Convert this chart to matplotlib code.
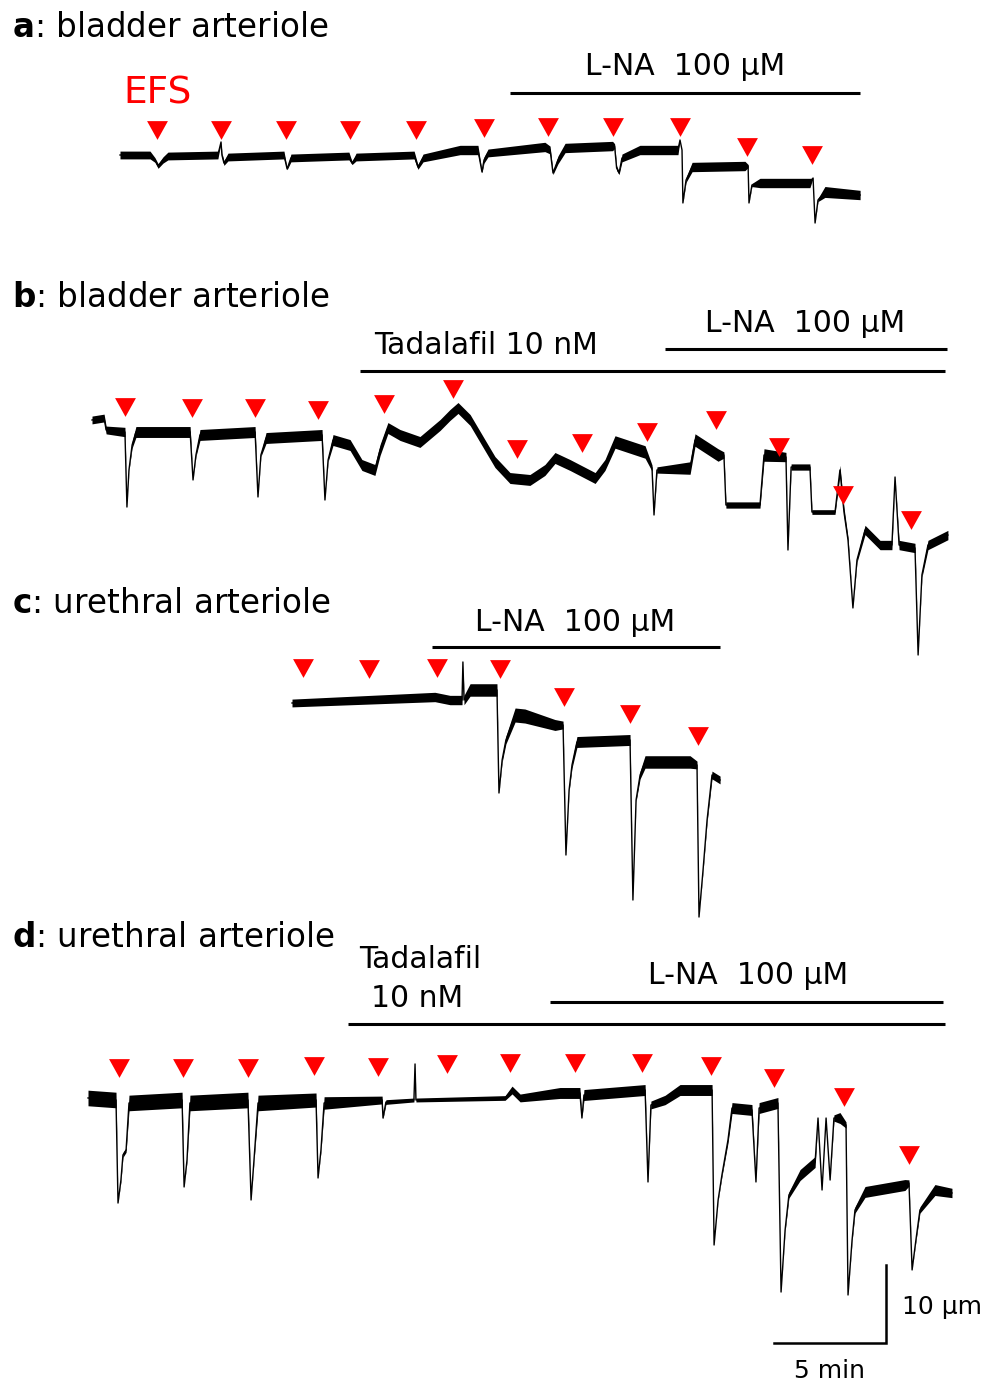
import numpy as np
import matplotlib
matplotlib.use("Agg")
import matplotlib.pyplot as plt

# ---------------- data (time in min, diameter change in µm, noise half-width in µm) ----------------
a_trace = [(0, 0, .5), (1.34, 0, .5), (1.56, -0.64, .3), (1.70, -1.41, .3), (1.92, -0.64, .4), (2.14, -0.13, .5),
           (4.37, 0, .5), (4.51, 1.67, 0), (4.55, 0, .3), (4.64, -1.03, .3), (4.82, -0.26, .5), (7.32, 0, .5),
           (7.46, -1.79, .1), (7.63, -0.38, .5), (10.22, -0.13, .5), (10.36, -1.03, .2), (10.54, -0.26, .5),
           (13.13, 0, .5), (13.30, -1.54, .3), (13.53, -0.38, .5), (15.18, 0.64, .6), (15.98, 0.64, .6),
           (16.16, -2.18, .1), (16.25, -0.64, .4), (16.43, 0.26, .5), (18.97, 1.03, .6), (19.20, 0.64, .5),
           (19.33, -2.31, .2), (19.55, -0.64, .5), (19.87, 0.90, .6), (21.99, 1.15, .6), (22.08, 1.15, .3),
           (22.17, -1.67, .3), (22.28, -2.31, .2), (22.41, -0.38, .5), (23.21, 0.64, .6), (24.91, 0.64, .6),
           (25.0, 1.92, 0), (25.09, 0.64, 0), (25.13, -6.15, 0), (25.27, -3.21, .3), (25.54, -1.54, .6),
           (27.90, -1.41, .6), (28.04, -1.41, .2), (28.08, -6.15, 0), (28.21, -3.85, .2), (28.57, -3.59, .6),
           (30.80, -3.59, .6), (30.94, -2.95, 0), (31.03, -8.72, 0), (31.16, -5.77, .2), (31.47, -4.74, .7),
           (33.04, -5.13, .6)]
a_efs_t = [1.65, 4.51, 7.41, 10.27, 13.21, 16.25, 19.11, 22.01, 25.0, 27.99, 30.89]
a_efs_h = [3.21, 3.21, 3.21, 3.21, 3.21, 3.46, 3.59, 3.59, 3.59, 1.03, 0.0]
a_lna = (17.41, 33.04)

b_trace = [(0, 1.54, .5), (0.54, 1.79, .5), (0.63, 0.26, .5), (1.47, 0, .6), (1.56, -9.62, 0), (1.65, -4.87, .1),
           (1.79, -1.67, .4), (1.96, 0, .7), (4.38, 0, .7), (4.51, -6.15, 0), (4.64, -2.95, .2), (4.82, -0.38, .7),
           (7.28, 0, .7), (7.41, -8.33, 0), (7.54, -2.95, .2), (7.77, -0.77, .7), (10.27, -0.38, .7),
           (10.40, -8.72, 0), (10.54, -3.59, .2), (10.76, -1.03, .7), (11.52, -1.67, .7), (12.05, -4.23, .7),
           (12.63, -4.87, .7), (12.86, -2.31, .7), (13.21, 0.51, .7), (13.75, -0.38, .7), (14.64, -1.28, .7),
           (15.54, 0.90, .7), (15.98, 2.18, .7), (16.34, 3.08, .7), (16.88, 1.54, .7), (17.54, -1.67, .7),
           (17.99, -3.85, .7), (18.66, -5.90, .7), (19.55, -6.15, .7), (20.22, -4.87, .7), (20.67, -3.33, .7),
           (21.34, -4.23, .7), (22.46, -5.90, .7), (22.90, -4.23, .7), (23.35, -1.28, .8), (24.69, -2.56, .8),
           (25.0, -4.62, .4), (25.09, -10.64, 0), (25.22, -4.87, .4), (26.70, -4.62, .8), (26.92, -1.03, .8),
           (27.95, -2.95, .8), (28.21, -2.95, .4), (28.30, -9.36, .4), (29.82, -9.36, .4), (30.0, -2.95, .8),
           (30.98, -3.21, .6), (31.07, -15.13, 0), (31.21, -4.49, .4), (32.05, -4.49, .4), (32.14, -10.26, .3),
           (33.17, -10.26, .3), (33.39, -4.87, .6), (33.57, -10.26, .6), (33.75, -13.85, .4), (33.97, -22.56, 0),
           (34.15, -16.41, .3), (34.51, -12.56, .6), (35.18, -14.49, .6), (35.71, -14.49, .6), (35.85, -5.77, 0),
           (36.03, -14.49, .6), (36.74, -14.87, .6), (36.88, -28.59, 0), (37.05, -18.33, .3), (37.32, -14.49, .6),
           (38.21, -13.21, .6)]
b_efs_t = [1.47, 4.46, 7.28, 10.09, 13.04, 16.12, 18.97, 21.88, 24.78, 27.86, 30.67, 33.53, 36.56]
b_efs_h = [3.21, 3.08, 3.08, 2.82, 3.59, 5.51, -2.18, -1.41, 0, 1.54, -1.92, -8.08, -11.28]
b_tad = (11.96, 38.08)
b_lna = (25.58, 38.17)

c_trace = [(0, 0, .5), (6.38, 0.77, .6), (7.05, 0.38, .6), (7.59, 0.38, .6), (7.63, 5.26, 0), (7.68, 0.38, .6),
           (7.95, 1.67, .8), (9.15, 1.67, .8), (9.24, -11.54, 0), (9.38, -7.31, .3), (9.55, -4.74, .5),
           (9.96, -1.54, .9), (10.40, -1.67, .9), (11.74, -2.82, .7), (12.10, -2.82, .5), (12.23, -19.49, 0),
           (12.37, -11.15, .2), (12.50, -7.95, .4), (12.72, -5.0, .7), (15.09, -4.74, .7), (15.22, -25.26, 0),
           (15.36, -12.44, .2), (15.54, -9.23, .5), (15.76, -7.56, .8), (17.77, -7.56, .8), (18.08, -7.95, .5),
           (18.17, -27.44, 0), (18.35, -21.41, .2), (18.53, -15.0, .3), (18.75, -9.23, .5), (19.11, -9.87, .5)]
c_efs_t = [0.49, 3.44, 6.47, 9.29, 12.14, 15.09, 18.13]
c_efs_h = [4.49, 4.36, 4.49, 4.36, 0.77, -1.41, -4.23]
c_lna = (6.25, 19.11)

d_trace = [(0, 0.26, 1.0), (1.25, 0, 1.0), (1.34, -13.21, 0), (1.47, -10.26, .2), (1.56, -7.05, .3),
           (1.70, -6.41, .3), (1.83, -0.38, 1.0), (4.20, 0, 1.0), (4.29, -11.15, 0), (4.42, -7.69, .2),
           (4.55, -0.38, 1.0), (7.14, 0, 1.0), (7.28, -12.82, 0), (7.41, -7.69, .2), (7.59, -0.38, 1.0),
           (10.18, 0, .9), (10.27, -10.0, 0), (10.40, -6.41, .2), (10.54, -0.38, .8), (13.13, 0, .5),
           (13.17, -2.31, .1), (13.30, -0.26, .3), (14.55, 0, .25), (14.60, 4.62, 0), (14.64, 0, .25),
           (18.62, 0.26, .3), (18.93, 1.28, .5), (19.29, 0.26, .5), (21.07, 0.90, .7), (21.96, 0.90, .7),
           (22.05, -2.31, 0), (22.14, 0.64, .7), (24.87, 1.28, .7), (25.0, -10.51, 0), (25.13, -0.64, .5),
           (25.76, 0, .6), (26.43, 1.28, .7), (27.86, 1.28, .7), (27.95, -18.59, 0), (28.13, -12.82, .1),
           (28.30, -9.62, .2), (28.57, -5.13, .4), (28.75, -1.03, .7), (29.64, -1.28, .7), (29.82, -10.51, 0),
           (29.96, -1.03, .7), (30.80, -0.38, .7), (30.94, -24.62, 0), (31.12, -16.67, .2), (31.29, -12.18, .4),
           (31.79, -9.62, .7), (32.46, -7.95, .7), (32.59, -2.31, 0), (32.77, -11.54, 0), (32.95, -2.31, 0),
           (33.13, -10.26, 0), (33.30, -2.31, .4), (33.57, -2.31, .7), (33.84, -3.21, .4), (33.93, -25.0, 0),
           (34.11, -17.95, .2), (34.24, -14.10, .4), (34.69, -11.79, .7), (36.47, -10.90, .7), (36.65, -10.64, .4),
           (36.79, -21.79, 0), (36.96, -17.95, .2), (37.14, -14.10, .4), (37.81, -11.54, .7), (38.57, -11.92, .6)]
d_efs_t = [1.38, 4.24, 7.14, 10.09, 12.95, 16.03, 18.84, 21.74, 24.73, 27.81, 30.63, 33.75, 36.65]
d_efs_h = [4.10, 4.10, 4.10, 4.36, 4.23, 4.62, 4.74, 4.74, 4.74, 4.36, 2.82, 0.38, -7.05]
d_tad = (11.61, 38.26)
d_lna = (20.63, 38.17)

scale_min = 5
scale_um = 10

# ---------------- layout ----------------
W, H = 994, 1384
PX_MIN = 22.4     # pixels per minute
PX_UM = 7.8       # pixels per µm

plt.rcParams['font.family'] = ['DejaVu Sans']
fig = plt.figure(figsize=(W / 100, H / 100), dpi=100)
fig.patch.set_facecolor('white')

lay = fig.add_axes([0, 0, 1, 1])
lay.set_xlim(0, W)
lay.set_ylim(H, 0)
lay.axis('off')


def panel_axes(x0, y0):
    ax = fig.add_axes([0, 0, 1, 1])
    ax.set_xlim(-x0 / PX_MIN, (W - x0) / PX_MIN)
    ax.set_ylim(-(H - y0) / PX_UM, y0 / PX_UM)
    ax.axis('off')
    ax.patch.set_alpha(0)
    return ax


TRI = [(-1, 0.9), (1, 0.9), (0, -0.9), (-1, 0.9)]


def draw_trace(ax, trace, efs_t, efs_h):
    t, d, w = np.array(trace, dtype=float).T
    ax.fill_between(t, d - w, d + w, color='black', lw=0)
    ax.plot(t, d, color='black', lw=1.0)
    ax.plot(efs_t, efs_h, ls='none', marker=TRI, ms=15, color='#ff0000', mew=0)


def bar(ax, span, y):
    ax.plot(list(span), [y, y], color='black', lw=2.2, solid_capstyle='butt')


axa = panel_axes(120, 155)
draw_trace(axa, a_trace, a_efs_t, a_efs_h)
bar(axa, a_lna, 7.95)

axb = panel_axes(92, 432)
draw_trace(axb, b_trace, b_efs_t, b_efs_h)
bar(axb, b_tad, 7.82)
bar(axb, b_lna, 10.64)

axc = panel_axes(292, 703)
draw_trace(axc, c_trace, c_efs_t, c_efs_h)
bar(axc, c_lna, 7.18)

axd = panel_axes(88, 1100)
draw_trace(axd, d_trace, d_efs_t, d_efs_h)
bar(axd, d_tad, 9.74)
bar(axd, d_lna, 12.56)

# scale bar
sx, sy = 35.63, -31.15
axd.plot([sx - scale_min, sx, sx], [sy, sy, sy + scale_um], color='black', lw=1.8,
         solid_joinstyle='miter')

# ---------------- text ----------------
TS = 23.5
lay.text(12, 37, r"$\mathbf{a}$: bladder arteriole", fontsize=TS, va='baseline')
lay.text(12, 307, r"$\mathbf{b}$: bladder arteriole", fontsize=TS, va='baseline')
lay.text(12, 613, r"$\mathbf{c}$: urethral arteriole", fontsize=TS, va='baseline')
lay.text(12, 947, r"$\mathbf{d}$: urethral arteriole", fontsize=TS, va='baseline')

lay.text(158, 103, "EFS", color='#ff0000', fontsize=27, ha='center', va='baseline')

LS = 21.5
lay.text(685, 75, "L-NA  100 µM", fontsize=LS, ha='center', va='baseline')
lay.text(486, 354, "Tadalafil 10 nM", fontsize=LS, ha='center', va='baseline')
lay.text(805, 332, "L-NA  100 µM", fontsize=LS, ha='center', va='baseline')
lay.text(575, 631, "L-NA  100 µM", fontsize=LS, ha='center', va='baseline')
lay.text(420, 968, "Tadalafil", fontsize=LS, ha='center', va='baseline')
lay.text(417, 1007, "10 nM", fontsize=LS, ha='center', va='baseline')
lay.text(748, 984, "L-NA  100 µM", fontsize=LS, ha='center', va='baseline')

lay.text(902, 1314, "10 µm", fontsize=18, ha='left', va='baseline')
lay.text(830, 1378, "5 min", fontsize=18, ha='center', va='baseline')

fig.savefig("out.png", dpi=100, facecolor='white')
